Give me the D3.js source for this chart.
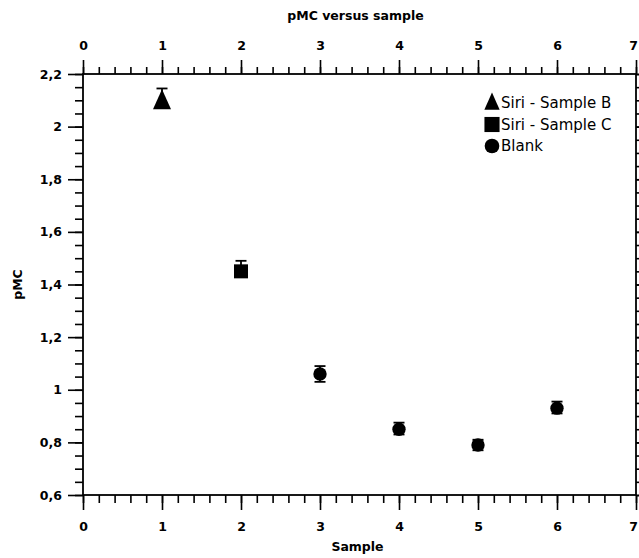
<!DOCTYPE html>
<html>
<head>
<meta charset="utf-8">
<script src="https://cdn.jsdelivr.net/npm/d3@7/dist/d3.min.js"></script>
<style>
  html, body { margin: 0; padding: 0; background: #fff; }
  svg { display: block; }
  .tick text { font-family: "DejaVu Sans", sans-serif; font-weight: bold; font-size: 12.5px; fill: #000; }
</style>
</head>
<body>
<script>
// ---- data ----
const legendNames = ["Siri - Sample B", "Siri - Sample C", "Blank"];
const sampleX = [1, 2, 3, 4, 5, 6];
const pmcValues = [2.10, 1.45, 1.06, 0.85, 0.79, 0.93];
const pmcErrorsUp = [0.045, 0.04, 0.03, 0.025, 0.02, 0.025];
const pmcErrorsDown = [0.02, 0.02, 0.03, 0.02, 0.02, 0.02];
const pointSeries = ["Siri - Sample B", "Siri - Sample C", "Blank", "Blank", "Blank", "Blank"];
const xTickValues = [0, 1, 2, 3, 4, 5, 6, 7];
const yTickValues = [0.6, 0.8, 1.0, 1.2, 1.4, 1.6, 1.8, 2.0, 2.2];
const yTickLabels = ["0,6", "0,8", "1", "1,2", "1,4", "1,6", "1,8", "2", "2,2"];

const W = 639, H = 558;
const m = { left: 83, right: 3, top: 74, bottom: 63 };

const svg = d3.select("body").append("svg").attr("width", W).attr("height", H);

const x = d3.scaleLinear().domain([0, 7]).range([m.left, W - m.right]);
const y = d3.scaleLinear().domain([0.6, 2.2]).range([H - m.bottom, m.top]);

const xMinor = d3.range(0, 7.0001, 0.2).map(v => +v.toFixed(2));
const yMinor = d3.range(0.6, 2.2001, 0.05).map(v => +v.toFixed(2));
const yLab = v => yTickLabels[yTickValues.findIndex(t => Math.abs(t - v) < 1e-6)];

function styleAxis(g) {
  g.select(".domain").remove();
  g.selectAll(".tick line").attr("stroke", "#000").attr("stroke-width", 1.6);
}
function nudgeLast(g) {
  g.selectAll(".tick text").filter(d => d === 7).attr("dx", "-3");
}

// minor ticks
svg.append("g").attr("transform", `translate(0,${m.top})`)
  .call(d3.axisTop(x).tickValues(xMinor).tickSize(7).tickFormat("")).call(styleAxis);
svg.append("g").attr("transform", `translate(0,${H - m.bottom})`)
  .call(d3.axisBottom(x).tickValues(xMinor).tickSize(8).tickFormat("")).call(styleAxis);
svg.append("g").attr("transform", `translate(${m.left},0)`)
  .call(d3.axisLeft(y).tickValues(yMinor).tickSize(8).tickFormat("")).call(styleAxis);
svg.append("g").attr("transform", `translate(${W - m.right},0)`)
  .call(d3.axisRight(y).tickValues(yMinor).tickSize(8).tickFormat("")).call(styleAxis);

// major ticks
svg.append("g").attr("transform", `translate(0,${m.top})`)
  .call(d3.axisTop(x).tickValues(xTickValues).tickSize(14).tickPadding(10).tickFormat(d3.format("d"))).call(styleAxis).call(nudgeLast);
svg.append("g").attr("transform", `translate(0,${H - m.bottom})`)
  .call(d3.axisBottom(x).tickValues(xTickValues).tickSize(15).tickPadding(12).tickFormat(d3.format("d"))).call(styleAxis).call(nudgeLast);
svg.append("g").attr("transform", `translate(${m.left},0)`)
  .call(d3.axisLeft(y).tickValues(yTickValues).tickSize(15).tickPadding(6).tickFormat(yLab)).call(styleAxis);
svg.append("g").attr("transform", `translate(${W - m.right},0)`)
  .call(d3.axisRight(y).tickValues(yTickValues).tickSize(15).tickFormat("")).call(styleAxis);

// frame
svg.append("rect")
  .attr("x", x(0)).attr("y", y(2.2))
  .attr("width", x(7) - x(0)).attr("height", y(0.6) - y(2.2))
  .attr("fill", "none").attr("stroke", "#000").attr("stroke-width", 1.8);

// symbols
const tallTriangle = {
  draw(ctx, size) {
    const s = Math.sqrt(size);
    ctx.moveTo(0, -s * 0.62);
    ctx.lineTo(s * 0.5, s * 0.5);
    ctx.lineTo(-s * 0.5, s * 0.5);
    ctx.closePath();
  }
};
const symbolFor = {
  "Siri - Sample B": d3.symbol().type(tallTriangle).size(324),
  "Siri - Sample C": d3.symbol().type(d3.symbolSquare).size(196),
  "Blank": d3.symbol().type(d3.symbolCircle).size(140)
};

const pts = sampleX.map((sx, i) => ({
  x: sx, v: pmcValues[i], up: pmcErrorsUp[i], down: pmcErrorsDown[i], s: pointSeries[i]
}));

// error bars
const eb = svg.append("g").attr("stroke", "#000").attr("stroke-width", 1.8);
pts.forEach(p => {
  const cx = x(p.x);
  eb.append("line").attr("x1", cx).attr("x2", cx).attr("y1", y(p.v - p.down)).attr("y2", y(p.v + p.up));
  [p.v - p.down, p.v + p.up].forEach(v => {
    eb.append("line").attr("x1", cx - 5.5).attr("x2", cx + 5.5).attr("y1", y(v)).attr("y2", y(v));
  });
});

svg.append("g").selectAll("path").data(pts).join("path")
  .attr("transform", d => `translate(${x(d.x)},${y(d.v)})`)
  .attr("d", d => symbolFor[d.s]())
  .attr("fill", "#000");

// legend
const leg = svg.append("g").attr("transform", "translate(492,103)");
legendNames.forEach((name, i) => {
  const g = leg.append("g").attr("transform", `translate(0,${i * 21.5})`);
  g.append("path").attr("d", symbolFor[name]()).attr("fill", "#000")
    .attr("transform", i === 0 ? "translate(0,-1) scale(0.85)" : (i === 1 ? "scale(1.08)" : "scale(1.1)"));
  g.append("text").attr("x", 9).attr("y", 0).attr("dy", "0.36em")
    .attr("font-family", "DejaVu Sans, sans-serif").attr("font-size", 15)
    .attr("fill", "#000").text(name);
});

// titles
svg.append("text").attr("x", (x(0) + x(7)) / 2 - 4).attr("y", 20)
  .attr("text-anchor", "middle").attr("font-family", "DejaVu Sans, sans-serif")
  .attr("font-weight", "bold").attr("font-size", 12.5).text("pMC versus sample");
svg.append("text").attr("x", (x(0) + x(7)) / 2 - 2).attr("y", 551)
  .attr("text-anchor", "middle").attr("font-family", "DejaVu Sans, sans-serif")
  .attr("font-weight", "bold").attr("font-size", 12.5).text("Sample");
svg.append("text").attr("transform", `translate(22,${(y(0.6) + y(2.2)) / 2}) rotate(-90)`)
  .attr("text-anchor", "middle").attr("font-family", "DejaVu Sans, sans-serif")
  .attr("font-weight", "bold").attr("font-size", 12.5).text("pMC");
</script>
</body>
</html>
